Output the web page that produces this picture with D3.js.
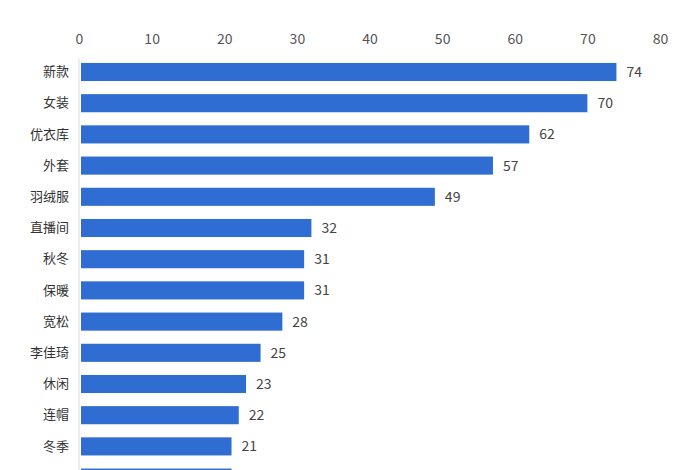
<!DOCTYPE html>
<html>
<head>
<meta charset="utf-8">
<script src="https://cdn.jsdelivr.net/npm/d3@7"></script>
<style>
  body { margin: 0; background: #fff; }
  text { font-family: "Noto Sans CJK SC", "Noto Sans", sans-serif; }
</style>
</head>
<body>
<div id="chart"></div>
<script>
var categories = ['新款', '女装', '优衣库', '外套', '羽绒服', '直播间', '秋冬', '保暖', '宽松', '李佳琦', '休闲', '连帽', '冬季', '卫衣']
var values = [74, 70, 62, 57, 49, 32, 31, 31, 28, 25, 23, 22, 21, 21]
var ticks = [0, 10, 20, 30, 40, 50, 60, 70, 80]

var width = 700
var height = 470

var svg = d3
  .select('#chart')
  .append('svg')
  .attr('width', width)
  .attr('height', height)

var xScale = d3.scaleLinear().domain([0, 80]).range([79, 660])

var yScale = d3
  .scaleBand()
  .domain(categories)
  .range([56.4, 56.4 + categories.length * 31.2])
  .paddingInner(0.42)
  .paddingOuter(0.21)

// top axis, labels only
var xAxis = d3.axisTop(xScale).tickValues(ticks).tickSize(0).tickPadding(0)
svg
  .append('g')
  .attr('transform', 'translate(0,44)')
  .call(xAxis)
  .call(g => g.select('.domain').remove())
  .selectAll('text')
  .attr('font-size', 14)
  .attr('fill', '#555')

// vertical baseline
svg
  .append('line')
  .attr('x1', xScale(0))
  .attr('x2', xScale(0))
  .attr('y1', 58)
  .attr('y2', height)
  .attr('stroke', '#ddd')

var data = categories.map((c, i) => ({ name: c, value: values[i] }))

svg
  .selectAll('.bar')
  .data(data)
  .enter()
  .append('rect')
  .attr('class', 'bar')
  .attr('x', xScale(0) + 2)
  .attr('y', d => yScale(d.name))
  .attr('width', d => xScale(d.value) - xScale(0) - 2)
  .attr('height', yScale.bandwidth())
  .attr('fill', '#2f6dd3')

var yAxis = d3.axisLeft(yScale).tickSize(0).tickPadding(10)
svg
  .append('g')
  .attr('transform', 'translate(' + xScale(0) + ',0)')
  .call(yAxis)
  .call(g => g.select('.domain').remove())
  .selectAll('text')
  .attr('font-size', 13)
  .attr('fill', '#333')

svg
  .selectAll('.value')
  .data(data)
  .enter()
  .append('text')
  .attr('class', 'value')
  .attr('x', d => xScale(d.value) + 10)
  .attr('y', d => yScale(d.name) + yScale.bandwidth() / 2)
  .attr('dy', '0.35em')
  .attr('font-size', 14)
  .attr('fill', '#444')
  .text(d => d.value)
</script>
</body>
</html>
